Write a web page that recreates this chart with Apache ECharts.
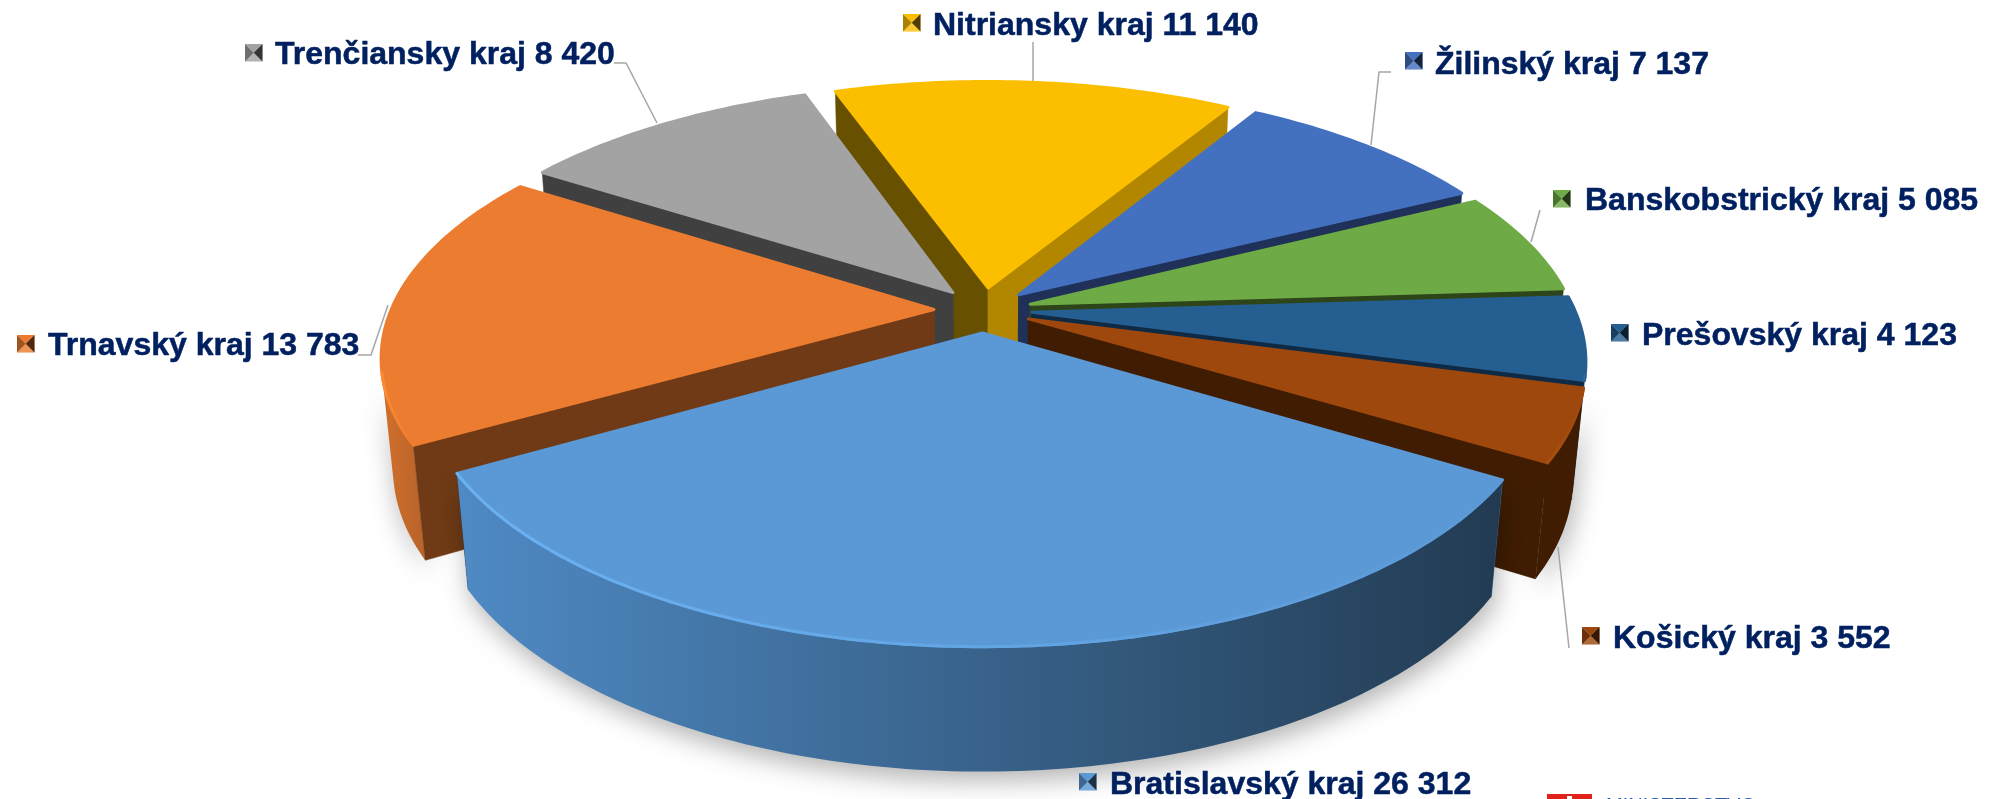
<!DOCTYPE html>
<html><head><meta charset="utf-8">
<style>html,body{margin:0;padding:0;background:#fff;overflow:hidden}#c{width:1992px;height:799px}</style>
<script src="https://cdn.jsdelivr.net/npm/echarts@6/dist/echarts.min.js"></script>
</head><body><div id="c"></div>
<script>
// ---- data (clockwise from the first slice) ----
const categories = ['Nitriansky kraj','Žilinský kraj','Banskobstrický kraj','Prešovský kraj','Košický kraj','Bratislavský kraj','Trnavský kraj','Trenčiansky kraj'];
const values = [11140,7137,5085,4123,3552,26312,13783,8420];
const valueLabels = ['11 140','7 137','5 085','4 123','3 552','26 312','13 783','8 420'];

// ---- style ----
const topColors = ['#fbbf00','#4371c0','#6eaa45','#255e91','#9e480e','#5b99d6','#eb7c30','#a3a3a3'];
const startWalls = ['#675000','#1f3158','#2e4419','#0f2a45','#3f1c02','#4f8ac4','#6f3a15','#404040'];
const endWalls   = ['#b38600','#1f3158','#2e4419','#0f2a45','#3f1c02','#223e56','#6f3a15','#404040'];
const outerWalls = [['#b38600','#b38600'],['#1f3158','#1f3158'],['#2e4419','#2e4419'],['#0f2a45','#143a5c'],['#3f1c02','#3f1c02'],['#4f8ac4','#223b52'],['#d0702b','#b9622a'],['#404040','#404040']];
const rimColors  = ['#ffd030','#5b8ad8','#7fbf55','#2f6da6','#a8510f','#6db4f5','#ff8c33','#b8b8b8'];
// ---- layout of the labels, by slice: key x, key y, text x, text y ----
const labelBoxes = [[903,14,933,26],[1405,52,1435,65],[1553,190,1585,201],[1611,324,1642,336],[1582,627,1613,639],[1079,773,1110,785],[17,335,48,346],[245,44,275,55]];
const leaders = [[[1033,42],[1033,81]],[[1391,72],[1379,72],[1371,145]],[[1540,210],[1531,242]],null,[[1569,648],[1558,547]],null,[[358,355],[371,355],[388,305]],[[614,63],[626,63],[657,123]]];

// ---- projection of the tilted disc ----
const CX=983, CY=310, R=543, EXPL=49, K=0.46, P=0.000323, HGT=110, Q=0.0195, START=-19.3;
const project=(X,Y,Z)=>{const w=1/(1-P*Y+Q*Z);return [CX+X*w, CY+(K*Y+HGT*Z)*w];};
const total=values.reduce((a,b)=>a+b,0);
const rad=d=>d*Math.PI/180;
const area=p=>{let s=0;for(let i=0;i<p.length;i++){const a=p[i],b=p[(i+1)%p.length];s+=a[0]*b[1]-b[0]*a[1];}return s/2;};

const starts=[];values.reduce((acc,v,i)=>{starts[i]=acc;return acc+v/total*360;},START);
const mids=values.map((v,i)=>starts[i]+v/total*180);
const order=values.map((_,i)=>i).sort((a,b)=>(-Math.cos(rad(mids[a])))-(-Math.cos(rad(mids[b]))));

function grad(c0,c1,x0,x1){return {type:'linear',global:true,x:x0,y:0,x2:x1,y2:0,colorStops:[{offset:0,color:c0},{offset:1,color:c1}]};}

function keyShape(i){
  const [kx,ky]=labelBoxes[i],s=17.5,c=topColors[i];
  const a=[kx,ky],b=[kx+s,ky],d=[kx+s,ky+s],e=[kx,ky+s],ctr=[kx+s/2,ky+s/2];
  const tri=(pts,fill,op)=>({type:'polygon',z2:100,shape:{points:pts},style:{fill,opacity:op}});
  return [
    tri([a,b,ctr],c,1),
    tri([e,d,ctr],c,1),
    tri([e,d,ctr],'#fff',0.18),
    tri([a,e,ctr],c,1),
    tri([a,e,ctr],'#000',0.32),
    tri([b,d,ctr],c,1),
    tri([b,d,ctr],'#000',0.68)
  ];
}

function renderItem(params,api){
  const i=params.dataIndex, v=api.value(0);
  const sweep=v/total*360, a0=starts[i], a1=a0+sweep, m=a0+sweep/2;
  const ox=EXPL*Math.sin(rad(m)), oy=-EXPL*Math.cos(rad(m));
  const rank=order.indexOf(i)*10;
  const pt=(a,z)=>project(ox+R*Math.sin(rad(a)), oy-R*Math.cos(rad(a)), z);
  const apex=z=>project(ox,oy,z);
  const steps=Math.max(8,Math.ceil(sweep));
  const arcAng=[];for(let s=0;s<=steps;s++)arcAng.push(a0+sweep*s/steps);
  const topPts=[apex(0),...arcAng.map(a=>pt(a,0))];

  const startQ=[apex(0),pt(a0,0),pt(a0,1),apex(1)];
  const endQ=[apex(0),pt(a1,0),pt(a1,1),apex(1)];
  const poly=(pts,fill,z,extra)=>({type:'polygon',z2:z,shape:{points:pts},style:Object.assign({fill,stroke:fill,lineWidth:.5},extra||{})});
  const kids=[];
  // a face is drawn after the outer wall only when it looks at the camera
  const startFront=area(startQ)<0, endFront=area(endQ)>0;
  if(!startFront)kids.push(poly(startQ,startWalls[i],rank+1));
  if(!endFront)kids.push(poly(endQ,endWalls[i],rank+1));
  const vis=[];
  for(let s=0;s<steps;s++){
    const q=[pt(arcAng[s],0),pt(arcAng[s+1],0),pt(arcAng[s+1],1),pt(arcAng[s],1)];
    if(area(q)<0){ if(!vis.length)vis.push(arcAng[s]); vis.push(arcAng[s+1]); }
  }
  const shadow={shadowBlur:26,shadowColor:'rgba(0,0,0,0.3)',shadowOffsetY:9,shadowOffsetX:3};
  if(vis.length){
    const up=vis.map(a=>pt(a,0)), dn=vis.map(a=>pt(a,1)).reverse();
    const all=up.concat(dn), xs=all.map(p=>p[0]);
    kids.push(poly(all,grad(outerWalls[i][0],outerWalls[i][1],Math.min(...xs),Math.max(...xs)),rank+2,shadow));
    kids[kids.length-1].style.stroke=null;
  }
  if(startFront)kids.push(poly(startQ,startWalls[i],rank+3));
  if(endFront)kids.push(poly(endQ,endWalls[i],rank+3));
  kids.push({type:'polygon',z2:rank+4,shape:{points:topPts},style:{fill:topColors[i],stroke:topColors[i],lineWidth:3,lineJoin:'round'}});
  if(vis.length){
    const up=vis.map(a=>pt(a,0)), xs=up.map(p=>p[0]);
    kids.push({type:'polyline',z2:rank+5,shape:{points:up},style:{fill:null,lineWidth:3,lineCap:'round',opacity:.9,stroke:grad(rimColors[i],topColors[i],Math.min(...xs),Math.max(...xs))}});
  }
  const b=labelBoxes[i];
  kids.push(...keyShape(i));
  kids.push({type:'text',z2:100,style:{x:b[2],y:b[3],text:categories[i]+' '+valueLabels[i],fill:'#002060',stroke:'#002060',lineWidth:.5,font:'bold 32px "Liberation Sans", Arial, sans-serif',textAlign:'left',textVerticalAlign:'middle'}});
  if(leaders[i])kids.push({type:'polyline',z2:99,shape:{points:leaders[i]},style:{fill:null,stroke:'#a6a6a6',lineWidth:1.5}});
  return {type:'group',children:kids};
}

const chart=echarts.init(document.getElementById('c'),null,{renderer:'canvas',width:1992,height:799});
chart.setOption({
  animation:false,
  backgroundColor:'#fff',
  series:[{type:'custom',coordinateSystem:'none',renderItem,silent:true,data:values.map((v,i)=>({name:categories[i],value:[v]}))}],
  graphic:[
    {type:'rect',z:5,shape:{x:1547,y:794,width:45,height:12},style:{fill:'#e2231a'}},
    {type:'rect',z:6,shape:{x:1567,y:796,width:5,height:12},style:{fill:'#fff'}},
    {type:'text',z:5,style:{x:1606,y:796,text:'MINISTERSTVO',fill:'#2a5caa',font:'20px "Liberation Sans", Arial, sans-serif',textVerticalAlign:'top'}}
  ]
});
</script></body></html>
